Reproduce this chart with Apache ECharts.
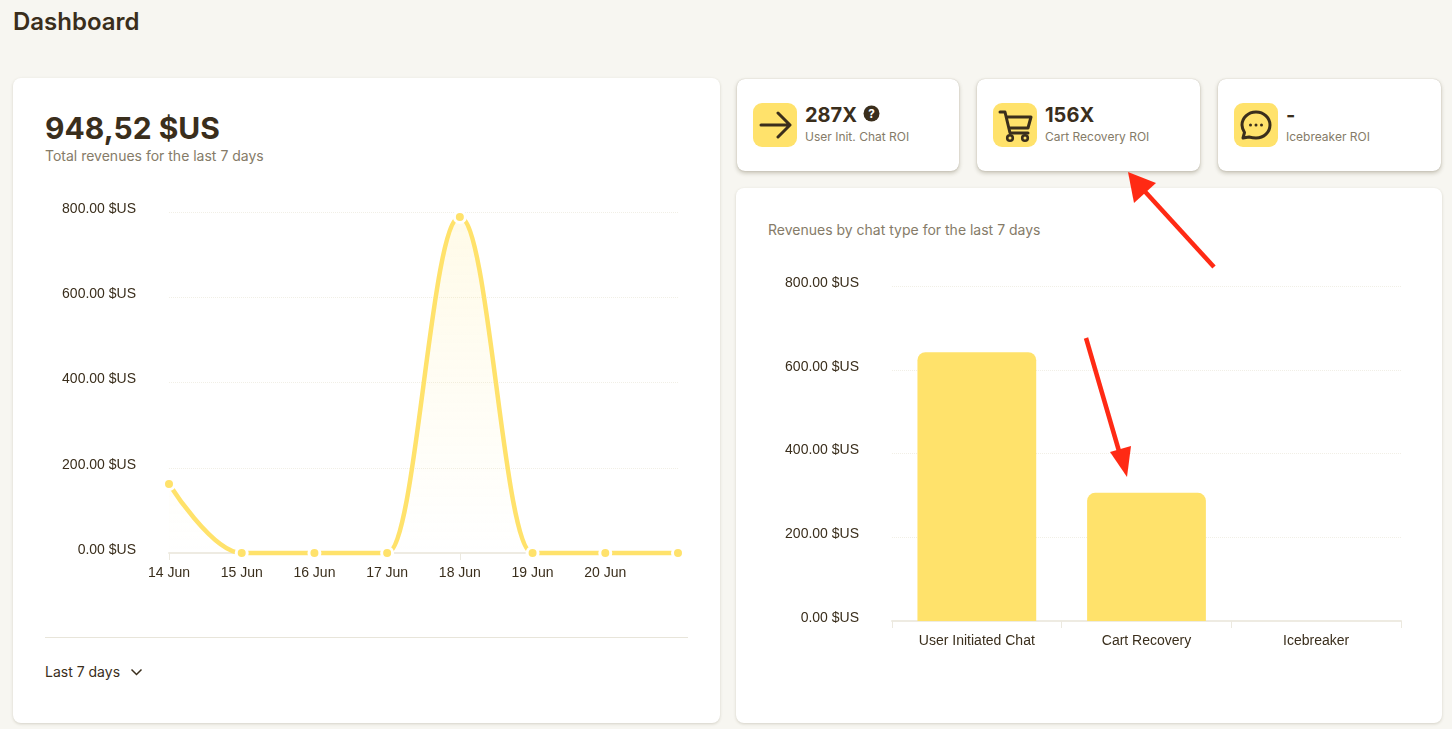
<!DOCTYPE html>
<html>
<head>
<meta charset="utf-8">
<title>Dashboard</title>
<script src="https://cdn.jsdelivr.net/npm/echarts@6/dist/echarts.min.js"></script>
<style>
html,body{margin:0;padding:0;background:#f7f6f1;width:1452px;height:729px;overflow:hidden;font-family:Inter,sans-serif;color:#3a2e1c}
.abs{position:absolute;white-space:nowrap}
.card{position:absolute;background:#fff;border-radius:8px;box-shadow:0 1px 3px rgba(90,80,50,.22)}
.small{box-shadow:0 0 1px rgba(90,80,50,.35),0 2px 4px rgba(90,80,50,.32)}
.icon{position:absolute;left:16px;top:24px;width:44px;height:44px;border-radius:9px;background:#ffe26b}
.val{position:absolute;left:68px;top:23px;font-size:20px;line-height:26px;font-weight:700;white-space:nowrap}
.lbl{position:absolute;left:68px;top:50px;font-size:12px;line-height:16px;color:#857b68;white-space:nowrap}
</style>
</head>
<body>
<div class="abs" style="left:13px;top:8px;font-size:24px;line-height:28px;font-weight:600">Dashboard</div>

<div class="card" style="left:13px;top:78px;width:707px;height:645px"></div>
<div class="abs" style="left:45px;top:108px;font-size:30px;line-height:40px;font-weight:700">948,52 $US</div>
<div class="abs" style="left:45px;top:147px;font-size:14px;line-height:18px;color:#857b68">Total revenues for the last 7 days</div>
<div id="line_chart" style="position:absolute;left:13px;top:180px;width:707px;height:430px"></div>
<div class="abs" style="left:45px;top:637px;width:643px;height:1px;background:#e8e5da"></div>
<div class="abs" style="left:45px;top:662px;font-size:14px;line-height:20px">Last 7 days</div>
<svg class="abs" style="left:130px;top:667px" width="13" height="10" viewBox="0 0 13 10"><path d="M1.5 2.5 L6.5 7.5 L11.5 2.5" fill="none" stroke="#3a2e1c" stroke-width="1.5"/></svg>

<div class="card small" style="left:737px;top:79px;width:222px;height:92px">
  <div class="icon"><svg width="44" height="44" viewBox="0 0 44 44"><path d="M8 22 H36 M25 10 L37 22 L25 34" fill="none" stroke="#3a2e1c" stroke-width="3" stroke-linecap="round" stroke-linejoin="round"/></svg></div>
  <div class="val">287X</div>
  <svg class="abs" style="left:126px;top:26px" width="17" height="17" viewBox="0 0 16 16"><circle cx="8" cy="8" r="7.5" fill="#3a2e1c"/><text x="8" y="12" text-anchor="middle" font-size="11" font-weight="700" fill="#fff" font-family="Inter">?</text></svg>
  <div class="lbl">User Init. Chat ROI</div>
</div>
<div class="card small" style="left:977px;top:79px;width:223px;height:92px">
  <div class="icon"><svg width="44" height="44" viewBox="0 0 44 44"><path d="M7 9 H12 L17 30 H35 M13.5 14 H38 L35 25 H16" fill="none" stroke="#3a2e1c" stroke-width="3" stroke-linecap="round" stroke-linejoin="round"/><circle cx="17" cy="35" r="2.8" fill="none" stroke="#3a2e1c" stroke-width="2.6"/><circle cx="32" cy="35" r="2.8" fill="none" stroke="#3a2e1c" stroke-width="2.6"/></svg></div>
  <div class="val">156X</div>
  <div class="lbl">Cart Recovery ROI</div>
</div>
<div class="card small" style="left:1218px;top:79px;width:223px;height:92px">
  <div class="icon"><svg width="44" height="44" viewBox="0 0 44 44"><path d="M22 9 C30 9 36 15 36 22 C36 29 30 35 22 35 C19 35 17 34.5 15 34 L9 35 L10.5 29.500 C9 27 8 25 8 22 C8 15 14 9 22 9 Z" fill="none" stroke="#3a2e1c" stroke-width="3" stroke-linejoin="round"/><circle cx="16.500" cy="22" r="1.500" fill="#3a2e1c"/><circle cx="22" cy="22" r="1.500" fill="#3a2e1c"/><circle cx="27.500" cy="22" r="1.500" fill="#3a2e1c"/></svg></div>
  <div class="val">-</div>
  <div class="lbl">Icebreaker ROI</div>
</div>

<div class="card" style="left:736px;top:188px;width:706px;height:535px"></div>
<div class="abs" style="left:768px;top:221px;font-size:14px;line-height:18px;color:#857b68">Revenues by chat type for the last 7 days</div>
<div id="bar_chart" style="position:absolute;left:736px;top:260px;width:706px;height:420px"></div>

<svg class="abs" style="left:0;top:0;pointer-events:none" width="1452" height="729">
  <path d="M1214 267 L1139 185" stroke="#ff2a14" stroke-width="4.500" fill="none"/>
  <path d="M1128 172 L1156 183 L1134 203 Z" fill="#ff2a14"/>
  <path d="M1086 338 L1121 458" stroke="#ff2a14" stroke-width="4.500" fill="none"/>
  <path d="M1127 477 L1110 452 L1131 446 Z" fill="#ff2a14"/>
</svg>

<script>
var line_days = ['14 Jun','15 Jun','16 Jun','17 Jun','18 Jun','19 Jun','20 Jun','']
var line_values = [162,0,0,0,788,0,0,0]
var bar_types = ['User Initiated Chat','Cart Recovery','Icebreaker']
var bar_values = [642,306,0]
var y_ticks = [0,200,400,600,800]

var yellow = '#ffe26b'
var text_color = '#3a2e1c'
var tick_font = 'Liberation Sans'

function y_axis(margin){
	return {
		type:'value',
		min:y_ticks[0],
		max:y_ticks[y_ticks.length-1],
		interval:y_ticks[1]-y_ticks[0],
		axisLine:{show:false},
		axisTick:{show:false},
		axisLabel:{
			margin:margin,
			color:text_color,
			fontSize:14,
			fontFamily:tick_font,
			verticalAlign:'bottom',
			lineHeight:6,
			formatter:function(v){return v.toFixed(2)+' $US'}
		},
		splitLine:{lineStyle:{color:'#f1efe6',type:'dotted',width:1}}
	}
}

var line_chart = echarts.init(document.getElementById('line_chart'))
line_chart.setOption({
	animation:false,
	grid:{left:156,top:32,width:509,height:341,containLabel:false},
	xAxis:{
		type:'category',
		boundaryGap:false,
		data:line_days,
		axisLine:{lineStyle:{color:'#eeebe2',width:2}},
		axisTick:{show:true,length:7,lineStyle:{color:'#ece9df'}},
		axisLabel:{margin:13,color:text_color,fontSize:14,fontFamily:tick_font,interval:0}
	},
	yAxis:y_axis(33),
	series:[{
		type:'line',
		data:line_values,
		smooth:0.4,
		smoothMonotone:'x',
		symbol:'circle',
		symbolSize:11,
		showAllSymbol:true,
		clip:false,
		lineStyle:{color:yellow,width:4.5},
		itemStyle:{color:yellow,borderColor:'#fff',borderWidth:3},
		areaStyle:{color:new echarts.graphic.LinearGradient(0,0,0,1,[
			{offset:0,color:'rgba(255,226,107,0.22)'},
			{offset:1,color:'rgba(255,226,107,0)'}
		])}
	}]
})

var bar_chart = echarts.init(document.getElementById('bar_chart'))
bar_chart.setOption({
	animation:false,
	grid:{left:156,top:26,width:509,height:335},
	xAxis:{
		type:'category',
		data:bar_types,
		axisLine:{lineStyle:{color:'#eeebe2',width:2}},
		axisTick:{show:true,length:7,lineStyle:{color:'#ece9df'}},
		axisLabel:{margin:13,color:text_color,fontSize:14,fontFamily:tick_font,interval:0}
	},
	yAxis:y_axis(33),
	series:[{
		type:'bar',
		data:bar_values,
		barCategoryGap:'30%',
		itemStyle:{color:yellow,borderRadius:[8,8,0,0]}
	}]
})
</script>
</body>
</html>
